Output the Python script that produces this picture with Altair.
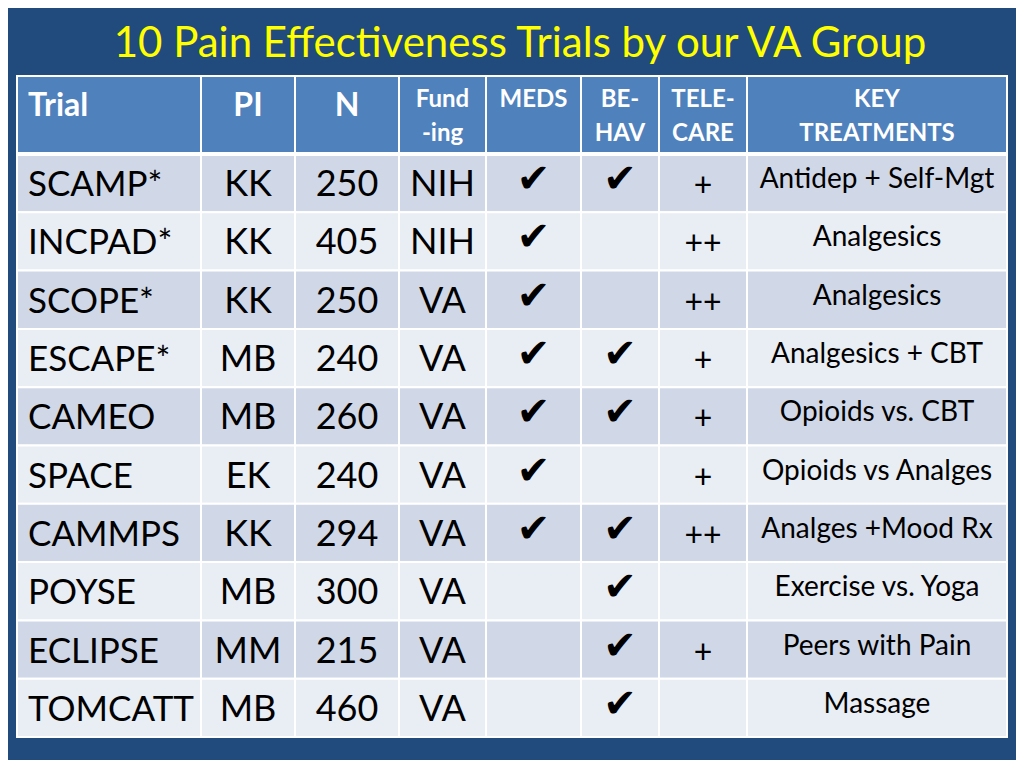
import altair as alt
import pandas as pd

# ---- data ----
title_text = "10 Pain Effectiveness Trials by our VA Group"
header_labels = ["Trial", "PI", "N", "Fund\n-ing", "MEDS", "BE-\nHAV", "TELE-\nCARE", "KEY\nTREATMENTS"]
trials = ["SCAMP*", "INCPAD*", "SCOPE*", "ESCAPE*", "CAMEO", "SPACE", "CAMMPS", "POYSE", "ECLIPSE", "TOMCATT"]
pis = ["KK", "KK", "KK", "MB", "MB", "EK", "KK", "MB", "MM", "MB"]
ns = [250, 405, 250, 240, 260, 240, 294, 300, 215, 460]
funding = ["NIH", "NIH", "VA", "VA", "VA", "VA", "VA", "VA", "VA", "VA"]
meds = [1, 1, 1, 1, 1, 1, 1, 0, 0, 0]
behav = [1, 0, 0, 1, 1, 0, 1, 1, 1, 1]
telecare = ["+", "++", "++", "+", "+", "+", "++", "", "+", ""]
key_treatments = ["Antidep + Self-Mgt", "Analgesics", "Analgesics", "Analgesics + CBT",
                  "Opioids vs. CBT", "Opioids vs Analges", "Analges +Mood Rx",
                  "Exercise vs. Yoga", "Peers with Pain", "Massage"]

# ---- layout (pixels in chart space) ----
W, H = 1008, 752
OFF = 8
col_edges = [17, 201, 295, 399, 486, 581, 659, 747, 1007]
header_top, header_bot = 76, 154
row_h = (737 - 154) / 10

cells = []
htexts = []
btexts = []
ltexts = []
checks = []
for c in range(8):
    x0, x1 = col_edges[c] - OFF, col_edges[c + 1] - OFF
    cells.append(dict(x0=x0, x1=x1, y0=header_top - OFF, y1=header_bot - OFF, fill="#4F81BD"))
    lines = header_labels[c].split("\n")
    if c < 3:
        htexts.append(dict(x=(x0 + x1) / 2 if c else 28 - OFF, y=106 - OFF, t=header_labels[c], fs=32, al="left" if c == 0 else "center"))
    else:
        for i, ln in enumerate(lines):
            htexts.append(dict(x=(x0 + x1) / 2, y=100 + 34 * i - OFF, t=ln, fs=24, al="center"))

for r in range(10):
    y0 = header_bot + r * row_h - OFF
    y1 = y0 + row_h
    yc = (y0 + y1) / 2
    fill = "#D0D8E8" if r % 2 == 0 else "#E9EDF4"
    for c in range(8):
        x0, x1 = col_edges[c] - OFF, col_edges[c + 1] - OFF
        cells.append(dict(x0=x0, x1=x1, y0=y0, y1=y1, fill=fill))
    xc = lambda c: (col_edges[c] + col_edges[c + 1]) / 2 - OFF
    ltexts.append(dict(x=28 - OFF, y=yc + 2, t=trials[r], fs=35))
    btexts.append(dict(x=xc(1), y=yc + 2, t=pis[r], fs=36))
    btexts.append(dict(x=xc(2), y=yc + 2, t=str(ns[r]), fs=36))
    btexts.append(dict(x=xc(3), y=yc + 2, t=funding[r], fs=36))
    btexts.append(dict(x=xc(6), y=yc + 3, t=telecare[r], fs=32))
    btexts.append(dict(x=xc(7), y=yc - 3, t=key_treatments[r], fs=28))
    if meds[r]:
        checks.append(dict(x=xc(4), y=yc - 3, t="\u2714"))
    if behav[r]:
        checks.append(dict(x=xc(5), y=yc - 3, t="\u2714"))

cells_df = pd.DataFrame(cells)
xs = alt.Scale(domain=[0, W], range=[0, W], nice=False, zero=False)
ys = alt.Scale(domain=[0, H], range=[0, H], nice=False, zero=False)

rects = alt.Chart(cells_df).mark_rect(stroke="white", strokeWidth=2).encode(
    x=alt.X("x0:Q", scale=xs, axis=None), x2="x1:Q",
    y=alt.Y("y0:Q", scale=ys, axis=None), y2="y1:Q",
    color=alt.Color("fill:N", scale=None),
)

sep = alt.Chart(pd.DataFrame([dict(x0=col_edges[0] - OFF, x1=col_edges[-1] - OFF, y=header_bot - OFF)])).mark_rule(
    color="white", strokeWidth=4).encode(
    x=alt.X("x0:Q", scale=xs, axis=None), x2="x1:Q", y=alt.Y("y:Q", scale=ys, axis=None))

FONT = "Lato"

def txt(df, align="center", weight="normal", color="black", font=FONT):
    return alt.Chart(pd.DataFrame(df)).mark_text(align=align, baseline="middle", fontWeight=weight,
                                                 color=color, font=font).encode(
        x=alt.X("x:Q", scale=xs, axis=None), y=alt.Y("y:Q", scale=ys, axis=None),
        text="t:N", size=alt.Size("fs:Q", scale=None, legend=None))

hdf = pd.DataFrame(htexts)
head_left = txt(hdf[hdf.al == "left"], align="left", weight="bold", color="white")
head_center = txt(hdf[hdf.al == "center"], weight="bold", color="white")
body = txt(btexts)
left = txt(ltexts, align="left")
chk = alt.Chart(pd.DataFrame(checks)).mark_text(baseline="middle", fontSize=40, font="DejaVu Sans", color="black").encode(
    x=alt.X("x:Q", scale=xs, axis=None), y=alt.Y("y:Q", scale=ys, axis=None), text="t:N")

title = alt.Chart(pd.DataFrame([dict(x=520 - OFF, y=44 - OFF, t=title_text)])).mark_text(
    baseline="middle", fontSize=42, font=FONT, color="#FFFF00").encode(
    x=alt.X("x:Q", scale=xs, axis=None), y=alt.Y("y:Q", scale=ys, axis=None), text="t:N")

chart = alt.layer(rects, sep, head_left, head_center, body, left, chk, title).properties(
    width=W, height=H, background="#214A7D", padding=0, autosize=alt.AutoSizeParams(type="none")
).configure_view(stroke=None)

chart.save("out.html", embed_options={"renderer": "svg", "actions": False})
